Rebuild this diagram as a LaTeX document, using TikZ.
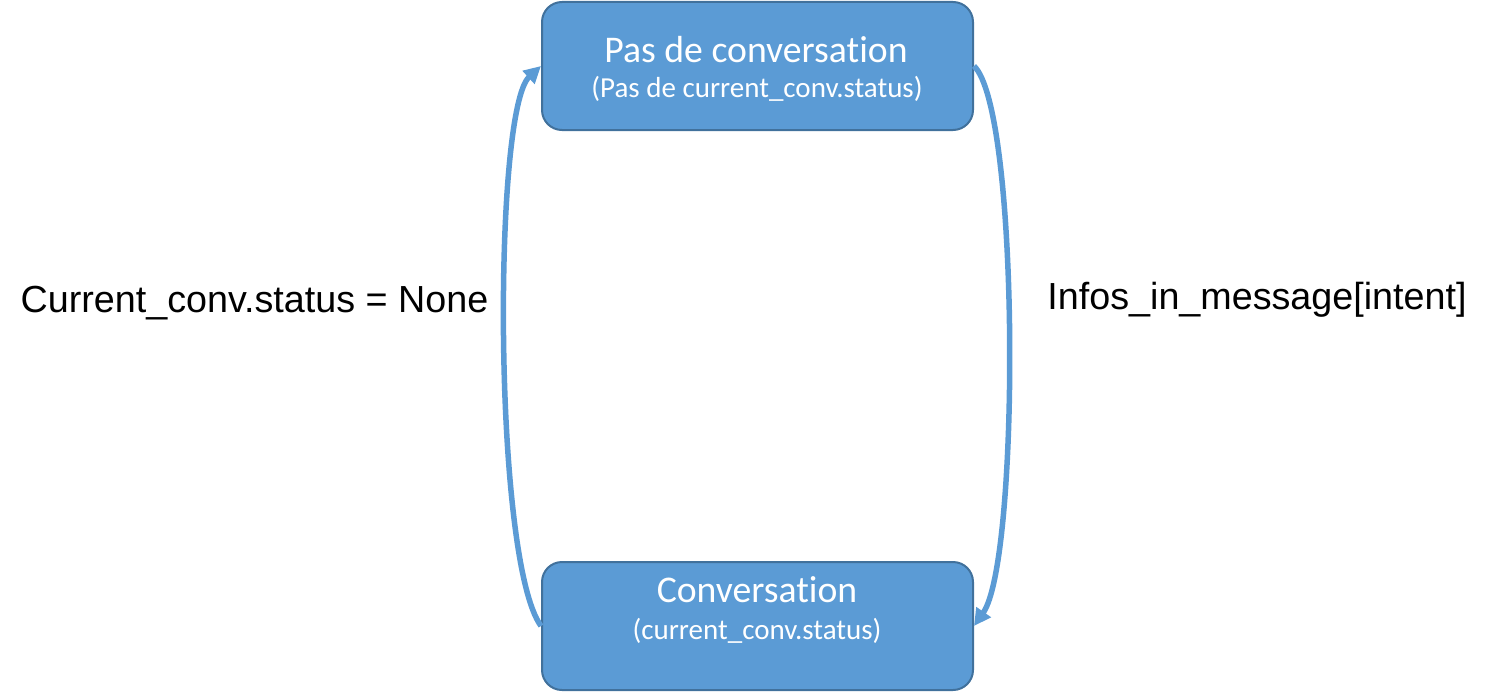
\documentclass[tikz,border=0pt]{standalone}
\usepackage{fontspec}
\setmainfont{Liberation Sans}
\newfontfamily\calibri[Ligatures=CommonOff]{Carlito}
\usetikzlibrary{arrows.meta}
\definecolor{boxfill}{HTML}{5B9BD5}
\definecolor{boxline}{HTML}{41719C}
\tikzset{
  state/.style={draw=boxline, line width=2pt, fill=boxfill, rounded corners=20pt,
    minimum width=431pt, minimum height=128pt, inner sep=0pt, text=white,
    align=center, font=\calibri},
  title/.style={font=\calibri\fontsize{37.7}{42}\selectfont, text=white, inner sep=0pt},
  sub/.style={font=\calibri\fontsize{29}{33}\selectfont, text=white, inner sep=0pt},
  conn/.style={draw=boxfill, line width=5.5pt, -{Triangle[length=17pt,width=17pt]}},
  lab/.style={font=\fontsize{37.7}{42}\selectfont, inner sep=0pt}
}
\begin{document}
\begin{tikzpicture}[x=1pt,y=-1pt]
\useasboundingbox (0,0) rectangle (1507,693);
\node[state] (top) at (757.5,66) {};
\node[title] (t1) at (756,50) {Pas de conversation};
\node[sub] (t2) at (757,89) {(Pas de current\_conv.status)};
\node[state] (bot) at (757.5,626) {};
\node[title] (b1) at (757,590) {Conversation};
\node[sub] (b2) at (757,631) {(current\_conv.status)};
\path[conn] (top.east) .. controls (1020,110) and (1020,560) .. (bot.east);
\path[conn] (bot.west) .. controls (493,560) and (493,110) .. (top.west);
\node[lab] (l1) at (254.5,303) {Current\_conv.status = None};
\node[lab] (l2) at (1257,300) {Infos\_in\_message[intent]};
\end{tikzpicture}
\end{document}
